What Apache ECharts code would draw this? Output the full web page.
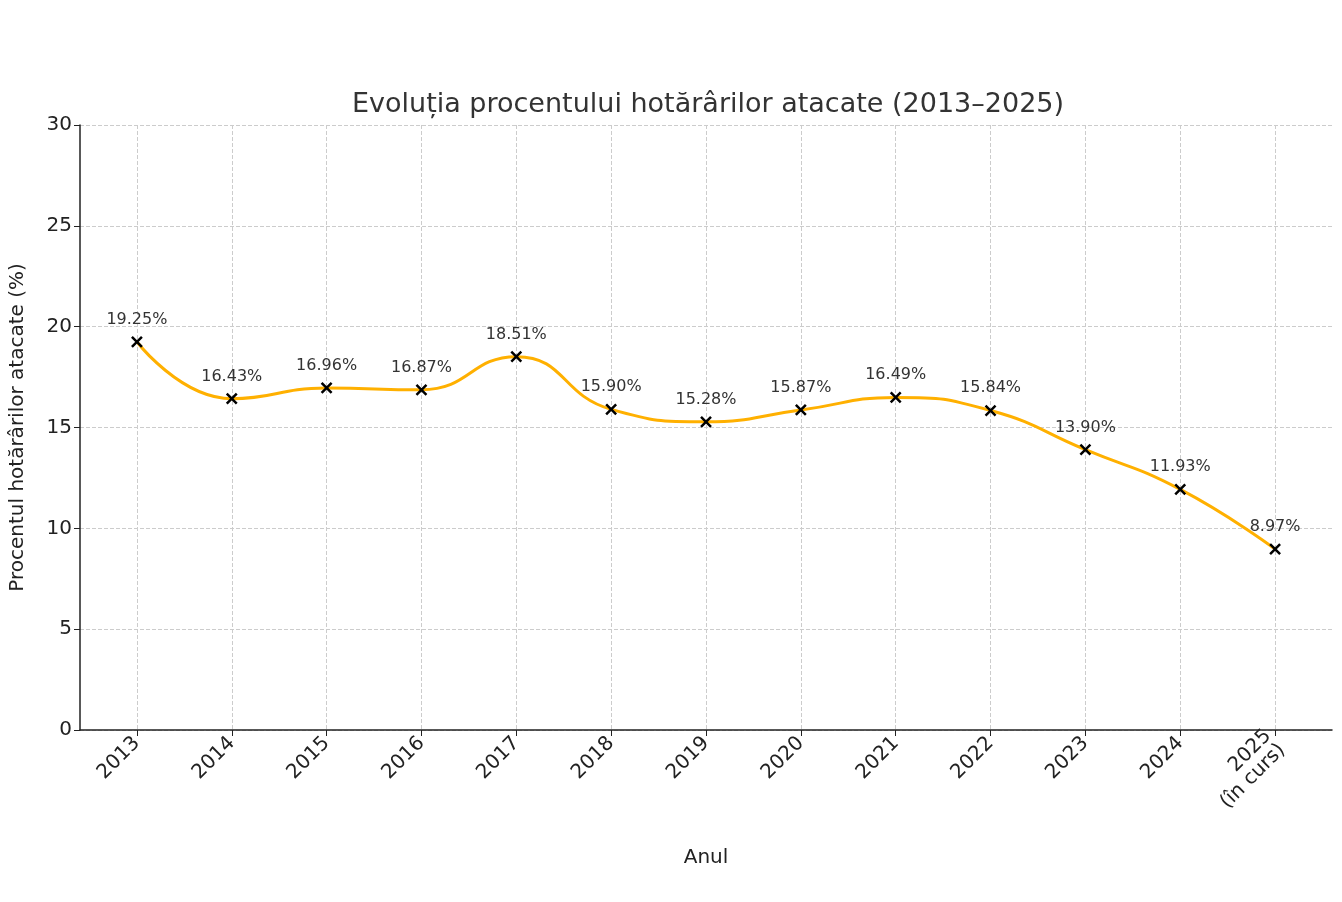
<!DOCTYPE html>
<html lang="ro">
<head>
<meta charset="utf-8" />
<title>Evoluția procentului hotărârilor atacate</title>
<script src="https://cdn.jsdelivr.net/npm/echarts@6/dist/echarts.min.js"></script>
<style>
    body { margin:0; background:#fff; }
    #main { width:1342px; height:902px; }
</style>
</head>
<body>
<div id="main"></div>
<script type="text/javascript">
    let years = [2013, 2014, 2015, 2016, 2017, 2018, 2019, 2020, 2021, 2022, 2023, 2024, 2025]
    let yearLabels = ['2013', '2014', '2015', '2016', '2017', '2018', '2019', '2020', '2021', '2022', '2023', '2024', '2025\n(în curs)']
    let percents = [19.25, 16.43, 16.96, 16.87, 18.51, 15.90, 15.28, 15.87, 16.49, 15.84, 13.90, 11.93, 8.97]

    let font = 'DejaVu Sans'
    let colorLine = '#FFB000'
    let colorText = '#333'

    let chart = echarts.init(document.getElementById('main'))

    let points = []
    for (let i = 0; i < years.length; i++) {
        points.push([years[i], percents[i]])
    }

    chart.setOption({
        animation: false,
        textStyle: { fontFamily: font },
        title: {
            text: 'Evoluția procentului hotărârilor atacate (2013–2025)',
            left: 703,
            top: 86,
            textAlign: 'center',
            textStyle: { fontSize: 27, fontWeight: 'normal', color: colorText, fontFamily: font },
        },
        grid: { left: 75, right: 10, top: 125, bottom: 172 },
        xAxis: {
            type: 'value',
            min: 2012.4,
            max: 2025.6,
            name: 'Anul',
            nameLocation: 'middle',
            nameGap: 118,
            nameTextStyle: { fontSize: 20, color: '#222' },
            axisLine: { lineStyle: { color: '#222', width: 1.5 } },
            axisTick: { customValues: years, length: 6, lineStyle: { color: '#222' } },
            axisLabel: {
                customValues: years,
                rotate: 45,
                fontSize: 20,
                color: '#222',
                margin: 10,
                formatter: function (v) {
                    return yearLabels[years.indexOf(Math.round(v))]
                },
            },
            splitLine: { show: true, lineStyle: { type: 'dashed', color: '#ccc' } },
        },
        yAxis: {
            type: 'value',
            min: 0,
            max: 30,
            interval: 5,
            name: 'Procentul hotărârilor atacate (%)',
            nameLocation: 'middle',
            nameGap: 52,
            nameTextStyle: { fontSize: 20, color: '#222' },
            axisLine: { show: true, lineStyle: { color: '#222', width: 1.5 } },
            axisTick: { show: true, length: 6, lineStyle: { color: '#222' } },
            axisLabel: { fontSize: 20, color: '#222' },
            splitLine: { lineStyle: { type: 'dashed', color: '#ccc' } },
        },
        series: [
            {
                type: 'line',
                data: points,
                smooth: 0.5,
                lineStyle: { color: colorLine, width: 3 },
                symbol: 'path://M0,0L10,10M10,0L0,10',
                symbolSize: 10,
                itemStyle: { color: '#000', borderColor: '#000', borderWidth: 2.5 },
                label: {
                    show: true,
                    position: 'top',
                    distance: 8,
                    fontSize: 16,
                    color: colorText,
                    formatter: function (p) { return p.value[1].toFixed(2) + '%' },
                },
                z: 3,
            },
        ],
    })
</script>
</body>
</html>
